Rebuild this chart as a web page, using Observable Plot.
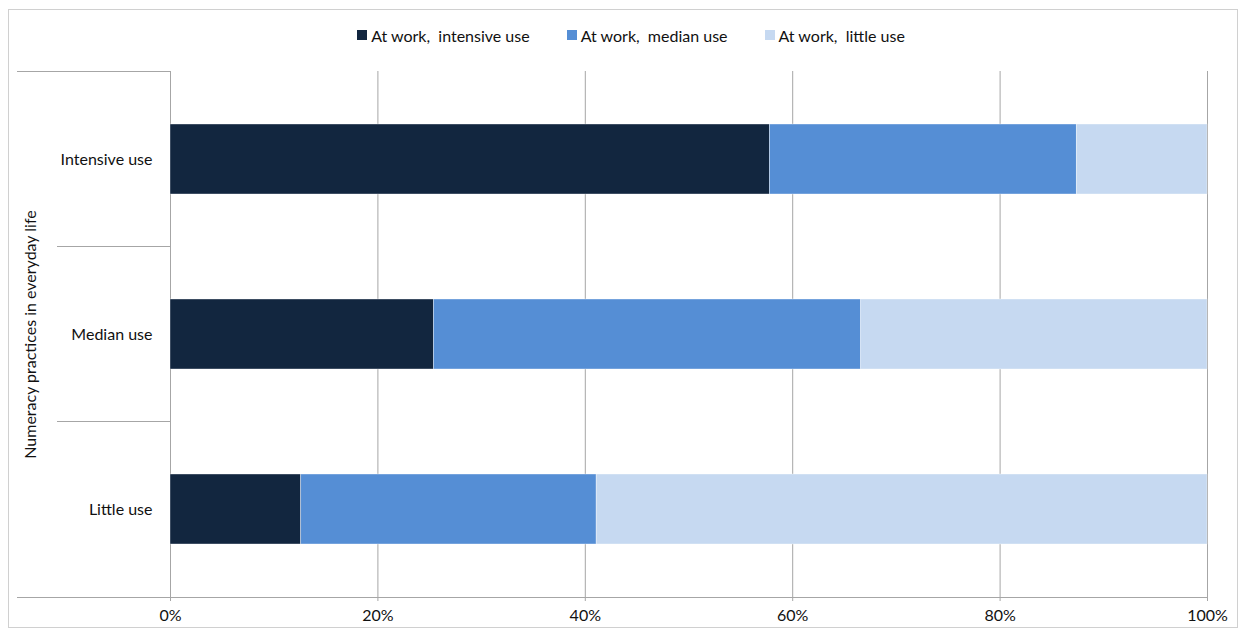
<!DOCTYPE html>
<html>
<head>
<meta charset="utf-8">
<script src="https://cdn.jsdelivr.net/npm/d3@7"></script>
<script src="https://cdn.jsdelivr.net/npm/@observablehq/plot@0.6"></script>
<style>
  html, body { margin: 0; padding: 0; background: #fff; }
  #wrap { position: relative; width: 1244px; height: 633px; font-family: Lato, "Open Sans", sans-serif; color: #111; }
  #frame { position: absolute; left: 8px; top: 9px; width: 1228px; height: 617px; border: 1px solid #d0d0d0; pointer-events: none; }
  #legend { height: 60px; display: flex; justify-content: center; align-items: center; padding-left: 18px; box-sizing: border-box; padding-top: 10px; font-size: 16px; white-space: pre; }
  .item { display: flex; align-items: center; margin: 0 18.5px; }
  .sw { width: 10px; height: 10px; margin-right: 4px; }
  svg { display: block; }
</style>
</head>
<body>
<div id="wrap">
  <div id="legend"></div>
  <div id="chart"></div>
  <div id="frame"></div>
</div>
<script>
const categories = ["Intensive use", "Median use", "Little use"];
const series = ["At work,  intensive use", "At work,  median use", "At work,  little use"];
const colors = ["#12263f", "#558ed5", "#c6d9f1"];
const intensiveAtWork = [57.8, 25.4, 12.6];
const medianAtWork = [29.6, 41.2, 28.5];
const littleAtWork = [12.6, 33.4, 58.9];
const xTicks = [0, 0.2, 0.4, 0.6, 0.8, 1];
const yTitle = "Numeracy practices in everyday life";

const seriesValues = [intensiveAtWork, medianAtWork, littleAtWork];
const data = [];
series.forEach((s, si) => {
  categories.forEach((c, ci) => {
    data.push({category: c, series: s, value: seriesValues[si][ci] / 100});
  });
});

// legend
const legend = document.getElementById("legend");
series.forEach((s, i) => {
  const it = document.createElement("div");
  it.className = "item";
  const sw = document.createElement("div");
  sw.className = "sw";
  sw.style.background = colors[i];
  const t = document.createElement("span");
  t.textContent = s;
  it.appendChild(sw); it.appendChild(t);
  legend.appendChild(it);
});

const gray = "#a6a6a6";

function leftLines(index, scales, values, dimensions) {
  const {width, height, marginTop, marginBottom, marginLeft, marginRight} = dimensions;
  const y = scales.y;
  const bw = y.bandwidth ? y.bandwidth() : 0;
  const centers = categories.map(c => y(c) + bw / 2);
  const top = marginTop, bottom = height - marginBottom;
  const g = d3.create("svg:g").attr("stroke", gray).attr("stroke-width", 1).attr("shape-rendering", "crispEdges");
  const outerX = 17, innerX = 57;
  g.append("line").attr("x1", outerX).attr("x2", marginLeft).attr("y1", top).attr("y2", top);
  for (let i = 0; i < centers.length - 1; i++) {
    const b = (centers[i] + centers[i + 1]) / 2;
    g.append("line").attr("x1", innerX).attr("x2", marginLeft).attr("y1", b).attr("y2", b);
  }
  g.append("line").attr("x1", outerX).attr("x2", width - marginRight).attr("y1", bottom).attr("y2", bottom);
  return g.node();
}

const chart = Plot.plot({
  width: 1244,
  height: 573,
  marginTop: 11,
  marginBottom: 36,
  marginLeft: 170,
  marginRight: 37,
  style: {fontFamily: "Lato, 'Open Sans', sans-serif", fontSize: "16px", color: "#111", background: "transparent"},
  x: {domain: [0, 1]},
  y: {domain: categories, paddingInner: 0.6, paddingOuter: 0.3},
  color: {domain: series, range: colors},
  marks: [
    Plot.gridX(xTicks, {stroke: gray, strokeOpacity: 1}),
    Plot.barX(data, Plot.stackX({x: "value", y: "category", fill: "series", stroke: "#ffffff", strokeOpacity: 0.5, strokeWidth: 0.75})),
    Plot.axisX({ticks: xTicks, tickFormat: d3.format(".0%"), tickSize: 4, tickPadding: 8, stroke: gray, label: null, fontSize: 16}),
    Plot.axisY({tickSize: 0, tickPadding: 18, label: yTitle, labelAnchor: "center", labelArrow: "none", labelOffset: 146, fontSize: 16}),
    leftLines
  ]
});
document.getElementById("chart").appendChild(chart);
</script>
</body>
</html>
